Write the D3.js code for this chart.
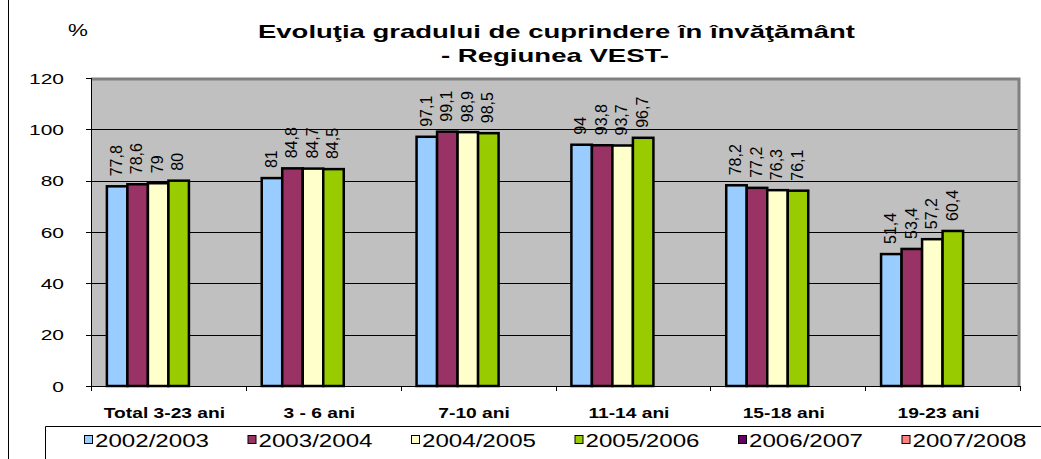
<!DOCTYPE html>
<html lang="ro">
<head>
<meta charset="utf-8">
<title>Evolutia gradului de cuprindere</title>
<style>
body { margin:0; background:#fff; }
text { font-family:"Liberation Sans", Arial, sans-serif; }
</style>
<script src="https://cdn.jsdelivr.net/npm/d3@7"></script>
</head>
<body>
<div id="chart"></div>
<script>
// data
var categories = ["Total 3-23 ani", "3 - 6 ani", "7-10 ani", "11-14 ani", "15-18 ani", "19-23 ani"];
var seriesNames = ["2002/2003", "2003/2004", "2004/2005", "2005/2006", "2006/2007", "2007/2008"];
var seriesColors = ["#99CCFF", "#993366", "#FFFFCC", "#99CC00", "#660066", "#FF8080"];
var v2002 = [77.8, 81, 97.1, 94, 78.2, 51.4];
var v2003 = [78.6, 84.8, 99.1, 93.8, 77.2, 53.4];
var v2004 = [79, 84.7, 98.9, 93.7, 76.3, 57.2];
var v2005 = [80, 84.5, 98.5, 96.7, 76.1, 60.4];
var v2006 = [null, null, null, null, null, null];
var v2007 = [null, null, null, null, null, null];
var yTicks = [0, 20, 40, 60, 80, 100, 120];

var allValues = [v2002, v2003, v2004, v2005, v2006, v2007];
var width = 1041, height = 459;
var plot = {left: 91, right: 1020, top: 78, bottom: 386};
var sx = 1.4; // horizontal stretch of the flat texts

var svg = d3.select("#chart").append("svg")
    .attr("width", width)
    .attr("height", height);

// outer frame line on the left
svg.append("line")
    .attr("x1", 8.5).attr("x2", 8.5).attr("y1", 0).attr("y2", height)
    .style("stroke", "#000").style("stroke-width", 1);

var x0 = d3.scaleBand().domain(categories).range([plot.left, plot.right]);
var x1 = d3.scaleBand().domain(seriesNames).range([0, x0.bandwidth()])
    .paddingInner(0).paddingOuter(0.775);
var y = d3.scaleLinear().domain([0, 120]).range([plot.bottom, plot.top]);

// plot background
svg.append("rect")
    .attr("x", plot.left).attr("y", plot.top)
    .attr("width", plot.right - plot.left).attr("height", plot.bottom - plot.top)
    .style("fill", "#C0C0C0");

// gridlines
svg.selectAll("line.grid")
    .data(yTicks.filter(function(t) { return t > 0 && t < 120; }))
    .enter().append("line")
        .attr("class", "grid")
        .attr("x1", plot.left).attr("x2", plot.right)
        .attr("y1", function(d) { return Math.round(y(d)) + 0.5; })
        .attr("y2", function(d) { return Math.round(y(d)) + 0.5; })
        .style("stroke", "#000").style("stroke-width", 1);

// gray top / right border
svg.append("path")
    .attr("d", "M" + plot.left + "," + (plot.top + 1) + "H" + (plot.right - 1) + "V" + plot.bottom)
    .style("fill", "none").style("stroke", "#808080").style("stroke-width", 3);

// bars
var rows = [];
categories.forEach(function(c, ci) {
    seriesNames.forEach(function(s, si) {
        var v = allValues[si][ci];
        if (v !== null) rows.push({cat: c, ser: s, si: si, value: v});
    });
});

svg.selectAll("rect.bar")
    .data(rows)
    .enter().append("rect")
        .attr("class", "bar")
        .attr("x", function(d) { return x0(d.cat) + x1(d.ser); })
        .attr("y", function(d) { return y(d.value); })
        .attr("width", x1.bandwidth())
        .attr("height", function(d) { return plot.bottom - y(d.value); })
        .style("fill", function(d) { return seriesColors[d.si]; })
        .style("stroke", "#000")
        .style("stroke-width", 2.5);

// value labels, rotated
svg.selectAll("text.val")
    .data(rows)
    .enter().append("text")
        .attr("class", "val")
        .attr("transform", function(d) {
            var cx = x0(d.cat) + x1(d.ser) + x1.bandwidth() / 2 - 1;
            return "translate(" + cx + "," + (y(d.value) - 10) + ") rotate(-90)";
        })
        .attr("dy", "0.36em")
        .style("font-size", "16px")
        .text(function(d) { return String(d.value).replace(".", ","); });

// y axis
var yAxis = svg.append("g");
yAxis.append("line")
    .attr("x1", plot.left + 0.5).attr("x2", plot.left + 0.5)
    .attr("y1", plot.top).attr("y2", plot.bottom)
    .style("stroke", "#000");
yAxis.selectAll("line.tick")
    .data(yTicks)
    .enter().append("line")
        .attr("class", "tick")
        .attr("x1", plot.left - 5).attr("x2", plot.left)
        .attr("y1", function(d) { return Math.round(y(d)) + 0.5; })
        .attr("y2", function(d) { return Math.round(y(d)) + 0.5; })
        .style("stroke", "#000");
yAxis.selectAll("text")
    .data(yTicks)
    .enter().append("text")
        .attr("transform", function(d) { return "translate(64," + (y(d) + 5.5) + ") scale(" + sx + ",1)"; })
        .attr("text-anchor", "end")
        .style("font-size", "15px")
        .text(function(d) { return d; });

// x axis
var xAxis = svg.append("g");
xAxis.append("line")
    .attr("x1", plot.left).attr("x2", plot.right)
    .attr("y1", plot.bottom + 0.5).attr("y2", plot.bottom + 0.5)
    .style("stroke", "#000");
xAxis.selectAll("line.tick")
    .data(categories.concat(["end"]))
    .enter().append("line")
        .attr("class", "tick")
        .attr("x1", function(d, i) { return Math.round(plot.left + i * x0.step()) + 0.5; })
        .attr("x2", function(d, i) { return Math.round(plot.left + i * x0.step()) + 0.5; })
        .attr("y1", plot.bottom).attr("y2", plot.bottom + 5)
        .style("stroke", "#000");
xAxis.selectAll("text")
    .data(categories)
    .enter().append("text")
        .attr("transform", function(d) { return "translate(" + (x0(d) + x0.bandwidth() / 2 - 4) + ",418) scale(1.28,1)"; })
        .attr("text-anchor", "middle")
        .style("font-size", "15px")
        .style("font-weight", "bold")
        .text(function(d) { return d; });

// title
svg.append("text")
    .attr("x", 258).attr("y", 38)
    .attr("textLength", 597).attr("lengthAdjust", "spacingAndGlyphs")
    .style("font-size", "19px").style("font-weight", "bold")
    .text("Evoluţia gradului de cuprindere în învăţământ");
svg.append("text")
    .attr("x", 441).attr("y", 62)
    .attr("textLength", 228).attr("lengthAdjust", "spacingAndGlyphs")
    .style("font-size", "19px").style("font-weight", "bold")
    .text("- Regiunea VEST-");
svg.append("text")
    .attr("transform", "translate(68,36) scale(" + sx + ",1)")
    .style("font-size", "16px")
    .text("%");

// legend
svg.append("path")
    .attr("d", "M" + width + ",426.5H45.5V" + height)
    .style("fill", "none").style("stroke", "#000");
var leg = svg.selectAll("g.leg")
    .data(seriesNames)
    .enter().append("g")
        .attr("class", "leg")
        .attr("transform", function(d, i) { return "translate(" + (84 + i * 163.5) + ",440)"; });
leg.append("rect")
    .attr("x", 0.5).attr("y", -4.5).attr("width", 8).attr("height", 8)
    .style("fill", function(d, i) { return seriesColors[i]; })
    .style("stroke", "#000");
leg.append("text")
    .attr("x", 11).attr("y", 7)
    .attr("textLength", 114).attr("lengthAdjust", "spacingAndGlyphs")
    .style("font-size", "18px")
    .text(function(d) { return d; });
</script>
</body>
</html>
